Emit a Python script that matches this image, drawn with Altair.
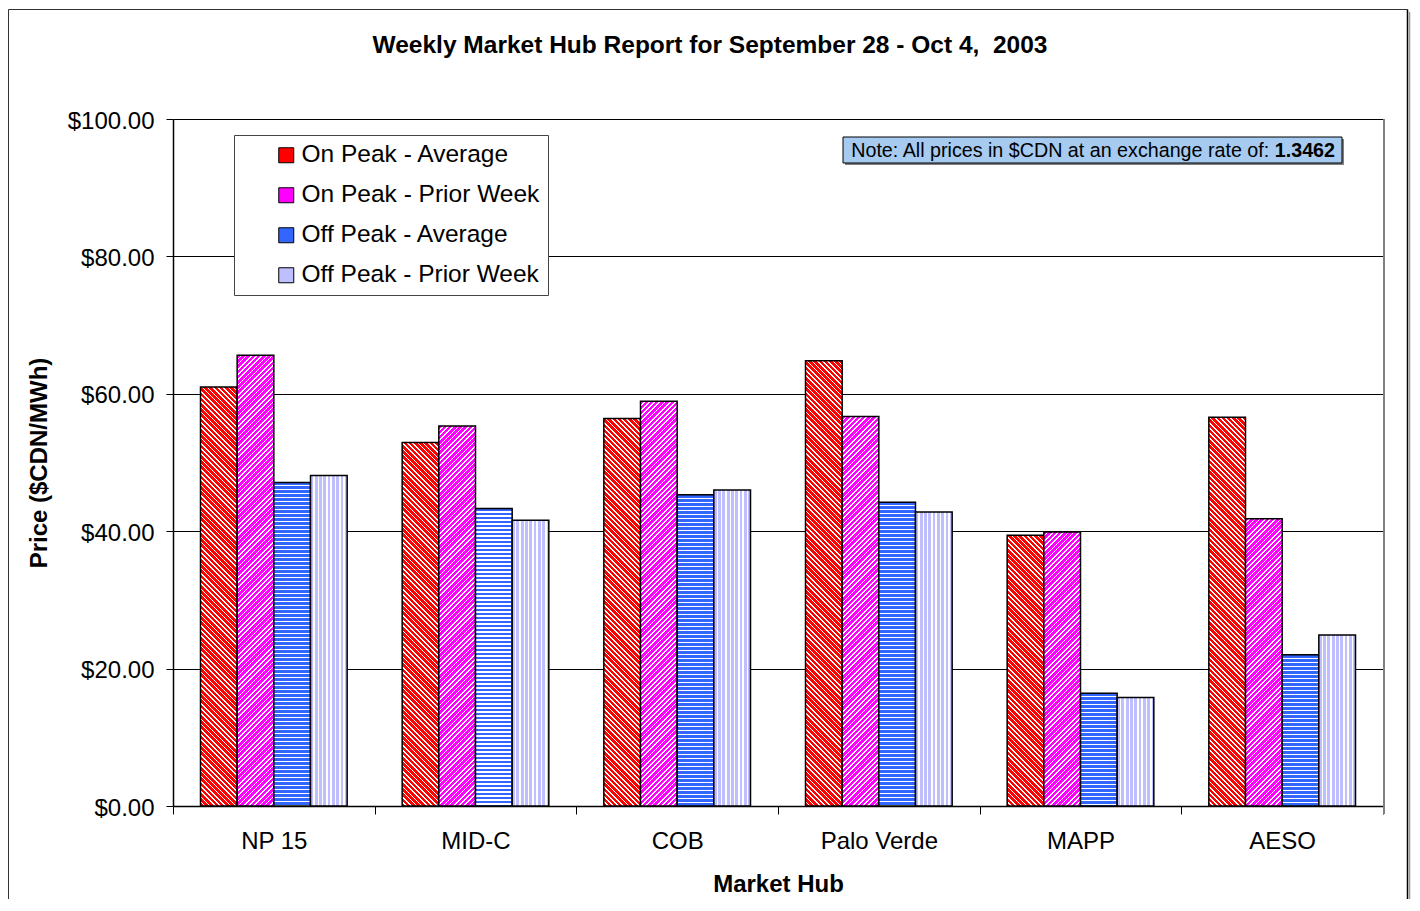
import math
import altair as alt
import pandas as pd

# ---------------- data ----------------
hubs = ["NP 15", "MID-C", "COB", "Palo Verde", "MAPP", "AESO"]
series = ["On Peak - Average", "On Peak - Prior Week",
          "Off Peak - Average", "Off Peak - Prior Week"]
on_peak_avg = [61.0, 52.9, 56.4, 64.8, 39.4, 56.6]
on_peak_prior = [65.6, 55.3, 58.9, 56.7, 39.9, 41.8]
off_peak_avg = [47.1, 43.3, 45.3, 44.2, 16.4, 22.0]
off_peak_prior = [48.1, 41.6, 46.0, 42.8, 15.8, 24.9]
y_ticks = [0, 20, 40, 60, 80, 100]

title_text = "Weekly Market Hub Report for September 28 - Oct 4,\u00a0 2003"
note_text = "Note: All prices in $CDN at an exchange rate of:"
note_rate = "1.3462"
y_title = "Price ($CDN/MWh)"
x_title = "Market Hub"

values = [on_peak_avg, on_peak_prior, off_peak_avg, off_peak_prior]
df = pd.DataFrame([
    {"hub": h, "series": s, "value": values[i][j]}
    for i, s in enumerate(series) for j, h in enumerate(hubs)
])
ann = pd.DataFrame({"a": [1]})

# ---------------- geometry / style ----------------
PLOT_W = 1210
PLOT_H = 687
Y_MAX = 100
OFF_PAD = 0.75
BAR_W = PLOT_W / len(hubs) / (len(series) + 2 * OFF_PAD)
FONT = "Liberation Sans"

styles = {
    series[0]: dict(color="#FF0000", back="#FFFFFF", kind="down", period=5.2, frac=0.68),
    series[1]: dict(color="#FF00FF", back="#FFFFFF", kind="up", period=5.2, frac=0.68),
    series[2]: dict(color="#3366FF", back="#FFFFFF", kind="horiz", period=4.0, frac=0.7),
    series[3]: dict(color="#BFBFFF", back="#FFFFFF", kind="vert", period=4.3, frac=0.65),
}


def make_stops(c1, c2, n, frac):
    out = []
    k = 0
    while k < n:
        a = round(k / n, 5)
        b = round(min((k + frac) / n, 1.0), 5)
        c = round(min((k + 1) / n, 1.0), 5)
        out.append({"offset": a, "color": c1})
        out.append({"offset": b, "color": c1})
        if b < 1.0:
            out.append({"offset": b, "color": c2})
            out.append({"offset": c, "color": c2})
        k += 1
    return out


def pattern(st, w, h):
    P = st["period"]
    kind = st["kind"]
    if kind in ("down", "up"):
        t = (w + h) * w / (w * w + h * h)
        if kind == "down":
            geo = dict(x1=0, y1=1, x2=round(t, 6), y2=round(1 - t * h / w, 6))
        else:
            geo = dict(x1=0, y1=0, x2=round(t, 6), y2=round(t * h / w, 6))
        n = (w + h) / P
    elif kind == "horiz":
        geo = dict(x1=0, y1=0, x2=0, y2=1)
        n = h / P
    else:
        geo = dict(x1=0, y1=0, x2=1, y2=0)
        n = w / P
    g = {"gradient": "linear"}
    g.update(geo)
    g["stops"] = make_stops(st["color"], st["back"], n, st["frac"])
    return g


# ---------------- encodings ----------------
x_enc = alt.X(
    "hub:N", sort=hubs,
    scale=alt.Scale(domain=hubs, paddingInner=0, paddingOuter=0),
    axis=alt.Axis(
        title=x_title, labelAngle=0, tickBand="extent", tickSize=8,
        tickColor="black", tickWidth=1, domainColor="black", domainWidth=1.5,
        labelFont=FONT, labelFontSize=24, labelColor="black", labelPadding=15,
        titleFont=FONT, titleFontSize=24, titleFontWeight="bold", titleColor="black",
        titleY=85, titleBaseline="alphabetic", grid=False,
    ),
)
xo_enc = alt.XOffset(
    "series:N", sort=series,
    scale=alt.Scale(domain=series, paddingInner=0, paddingOuter=OFF_PAD),
)
y_enc = alt.Y(
    "value:Q",
    scale=alt.Scale(domain=[0, Y_MAX], nice=False, zero=True),
    axis=alt.Axis(
        values=y_ticks, format="$.2f", title=y_title, grid=True,
        gridColor="black", gridWidth=1, tickSize=7, tickColor="black",
        domainColor="black", domainWidth=1.5, labelFont=FONT, labelFontSize=24,
        labelColor="black", labelPadding=12, labelOffset=2,
        titleFont=FONT, titleFontSize=24, titleFontWeight="bold", titleColor="black",
        titleX=-127, titleBaseline="alphabetic",
    ),
)

base = alt.Chart(df).mark_bar().encode(
    x=x_enc, xOffset=xo_enc, y=y_enc,
    color=alt.Color(
        "series:N", sort=series,
        scale=alt.Scale(domain=series, range=[styles[s]["color"] for s in series]),
        legend=alt.Legend(
            title=None, orient="none", legendX=61, legendY=16,
            padding=8, symbolOffset=32, labelOffset=3, rowPadding=15,
            symbolType="square", symbolSize=225, symbolStrokeColor="black",
            symbolStrokeWidth=1, symbolOpacity=1, labelFont=FONT, labelFontSize=24.5,
            labelColor="black", labelLimit=400,
            labelExpr="datum.label + '\u00a0\u00a0\u00a0\u00a0\u00a0'",
            strokeColor="#444444", fillColor="white",
        ),
    ),
)

layers = [base]
for i, s in enumerate(series):
    for j, h in enumerate(hubs):
        v = values[i][j]
        hp = v * PLOT_H / Y_MAX
        grad = pattern(styles[s], BAR_W, hp)
        layers.append(
            alt.Chart(df)
            .transform_filter("datum.hub === '%s' && datum.series === '%s'" % (h, s))
            .mark_bar(fill=grad, stroke="black", strokeWidth=1.5)
            .encode(x=x_enc, xOffset=xo_enc, y=y_enc)
        )

# plot-area right edge (grey)
layers.append(alt.Chart(ann).mark_rule(stroke="#808080", strokeWidth=2).encode(
    x=alt.value(PLOT_W + 1), y=alt.value(0), y2=alt.value(PLOT_H + 8)))

# outer chart frame
layers.append(alt.Chart(ann).mark_rule(stroke="#333333", strokeWidth=1).encode(
    x=alt.value(-164.5), y=alt.value(-109.5), y2=alt.value(780)))
layers.append(alt.Chart(ann).mark_rule(stroke="#333333", strokeWidth=1).encode(
    x=alt.value(-164.5), x2=alt.value(1234.5), y=alt.value(-109.5)))
layers.append(alt.Chart(ann).mark_rule(stroke="black", strokeWidth=1.5).encode(
    x=alt.value(1234.5), y=alt.value(-109.5), y2=alt.value(780)))
layers.append(alt.Chart(ann).mark_rule(stroke="#999999", strokeWidth=1.5).encode(
    x=alt.value(1236.5), y=alt.value(-107), y2=alt.value(780)))

# chart title
layers.append(alt.Chart(ann).mark_text(
    text=title_text, font=FONT, fontSize=24.5, fontWeight="bold", color="black",
    align="center", baseline="alphabetic").encode(x=alt.value(537), y=alt.value(-66)))

# note box
NX1, NX2, NY1, NY2 = 670, 1169, 18, 44
layers.append(alt.Chart(ann).mark_rect(fill="#808080").encode(
    x=alt.value(NX1 + 2), x2=alt.value(NX2 + 2), y=alt.value(NY1 + 2), y2=alt.value(NY2 + 2)))
layers.append(alt.Chart(ann).mark_rect(fill="#A6CAF0", stroke="black", strokeWidth=1).encode(
    x=alt.value(NX1), x2=alt.value(NX2), y=alt.value(NY1), y2=alt.value(NY2)))
split = NX2 - 7 - 3.058 * 19.7
layers.append(alt.Chart(ann).mark_text(
    text=note_text, font=FONT, fontSize=19.7, color="black",
    align="right", baseline="alphabetic").encode(x=alt.value(split - 5.5), y=alt.value(38)))
layers.append(alt.Chart(ann).mark_text(
    text=note_rate, font=FONT, fontSize=19.7, fontWeight="bold", color="black",
    align="left", baseline="alphabetic").encode(x=alt.value(split), y=alt.value(38)))

chart = alt.layer(*layers).properties(
    width=PLOT_W, height=PLOT_H, padding=0, background="white"
).configure_view(strokeWidth=0)

chart.save("out.html", embed_options={"renderer": "svg", "actions": False})
